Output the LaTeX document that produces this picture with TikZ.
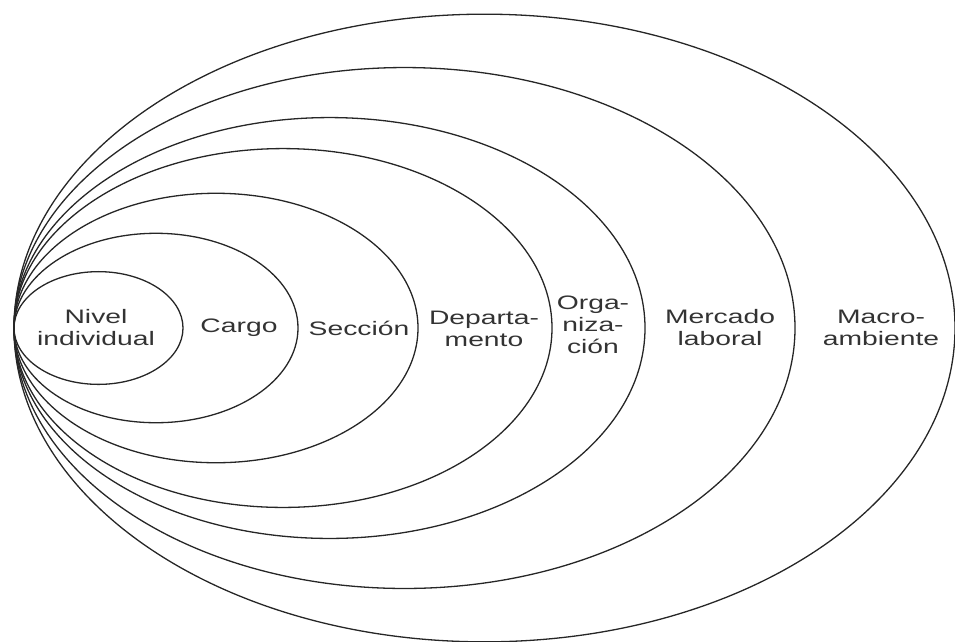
\documentclass[tikz,border=0pt]{standalone}
\usepackage{fontspec}
\newfontfamily\labelfont[FakeStretch=1.45]{Liberation Sans}
\begin{document}
\begin{tikzpicture}[x=1pt,y=-1pt,
  ring/.style={draw=black!85,line width=1.3pt},
  lbl/.style={align=center,font=\labelfont\fontsize{19.5}{22}\selectfont,text=black!80,inner sep=0pt}]
\useasboundingbox (0,0) rectangle (955,641);
% nested ellipses sharing a common left point at x = 14
\foreach \r in {84.5,142,202,269,315.5,390.5,470.5}{
  \draw[ring] ({14+\r},328) ellipse [x radius=\r, y radius={\r*0.667}];
}
\node[lbl] (ind)  at (96,328)  {Nivel\\individual};
\node[lbl] (car)  at (239,328) {Cargo};
\node[lbl] (sec)  at (359,328) {Sección};
\node[lbl] (dep)  at (484,329) {Departa-\\mento};
\node[lbl] (org)  at (593,325) {Orga-\\niza-\\ción};
\node[lbl] (mer)  at (720,328) {Mercado\\laboral};
\node[lbl] (mac)  at (881,328) {Macro-\\ambiente};
\end{tikzpicture}
\end{document}
